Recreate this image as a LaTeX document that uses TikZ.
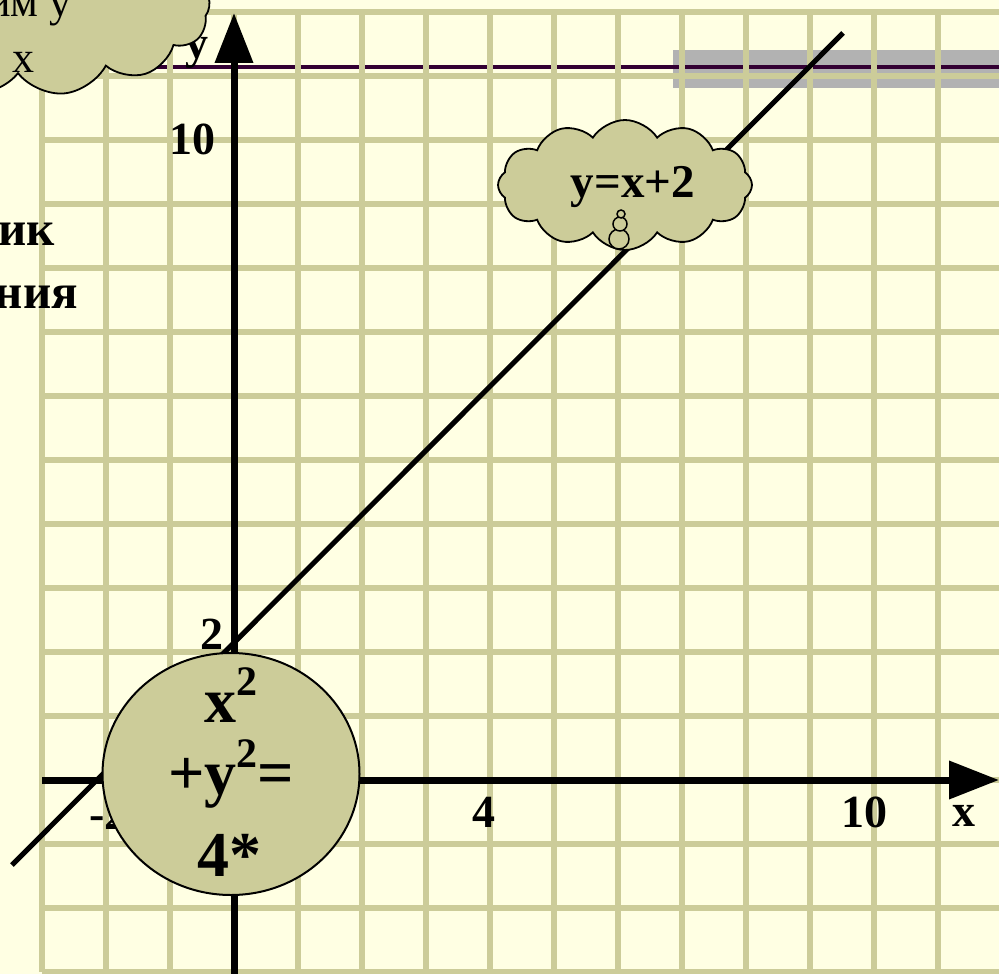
\documentclass[tikz,border=0pt]{standalone}
\usepackage{fontspec}
\setmainfont{Liberation Serif}
\usetikzlibrary{arrows.meta,shapes.symbols,shapes.geometric}
\definecolor{bgc}{HTML}{FFFFE3}
\definecolor{gridc}{HTML}{CCCC99}
\definecolor{fillc}{HTML}{CCCC99}
\definecolor{barc}{HTML}{B2B2B2}
\definecolor{purp}{HTML}{330033}
\newcommand\fsz[1]{\fontsize{#1}{#1}\selectfont}
\tikzset{
  gridline/.style={gridc, line width=6pt},
  axisline/.style={line width=7pt, -{Triangle[length=50pt,width=37pt]}},
  graphline/.style={line width=5pt},
  lbl/.style={font=\fsz{46}\bfseries, inner sep=0pt},
  bubble/.style={draw, fill=fillc, line width=1.5pt},
  cloudbox/.style={cloud, cloud ignores aspect, draw, fill=fillc, line width=1.8pt, cloud puffs=12, cloud puff arc=115, inner sep=0pt},
}
\begin{document}
\begin{tikzpicture}[x=1pt,y=-1pt]
\useasboundingbox (0,0) rectangle (999,974);
\fill[bgc] (0,0) rectangle (999,974);
% gray bar and purple line
\fill[barc] (673,50) rectangle (999,88);
\coordinate (pa) at (0,67);
\coordinate (pb) at (999,67);
\draw[purp, line width=3.5pt] (pa) -- (pb);
% grid
\foreach \i in {0,...,15} {\draw[gridline] ({42+64*\i},12) -- ({42+64*\i},972);}
\foreach \j in {0,...,15} {\draw[gridline] (42,{12+64*\j}) -- (999,{12+64*\j});}
% axes
\coordinate (xs) at (42,780);
\coordinate (xe) at (999,780);
\coordinate (ys) at (234,974);
\coordinate (ye) at (234,13);
\draw[axisline] (xs) -- (xe);
\draw[axisline] (ys) -- (ye);
% line y=x+2
\coordinate (la) at (12,865);
\coordinate (lb) at (843,33);
\draw[graphline] (la) -- (lb);
% labels
\node[lbl, anchor=base] (ten) at (192,154) {10};
\node[lbl, anchor=base] (two) at (212,649) {2};
\node[lbl, anchor=base west] (mtwo) at (89,829) {-2};
\node[lbl, anchor=base] (four) at (484,827) {4};
\node[lbl, anchor=base] (tenx) at (864,827) {10};
\node[lbl, anchor=base] (xl) at (964,826) {x};
\node[lbl, anchor=base] (yl) at (197,59) {y};
% left text
\node[font=\fsz{49}\bfseries, anchor=base east, inner sep=0pt] (tik) at (55,245) {ик};
\node[font=\fsz{49}\bfseries, anchor=base east, inner sep=0pt] (tnia) at (78,308) {ния};
% circle
\node[ellipse, draw, fill=fillc, line width=2pt, minimum width=257pt, minimum height=242pt, inner sep=0pt] (circ) at (231,774) {};
\node[font=\fsz{64}\bfseries, anchor=base, inner sep=0pt] (e1) at (231,722) {x\raisebox{27pt}{\fsz{42}2}};
\node[font=\fsz{64}\bfseries, anchor=base, inner sep=0pt] (e2) at (231,794) {+y\raisebox{27pt}{\fsz{42}2}=};
\node[font=\fsz{64}\bfseries, anchor=base, inner sep=0pt] (e3) at (229,876) {4*};
% cloud y=x+2
\node[cloudbox, minimum width=254pt, minimum height=130pt] (c1) at (625,185) {};
\node[font=\fsz{47}\bfseries, inner sep=0pt] (c1t) at (633,187) {y=x+2};
\node[bubble, circle, minimum size=20pt, inner sep=0pt] (b1) at (619,239) {};
\node[bubble, circle, minimum size=14pt, inner sep=0pt] (b2) at (620,224) {};
\node[bubble, circle, minimum size=8pt, inner sep=0pt] (b3) at (621,214) {};
% top-left cloud
\node[cloudbox, cloud puffs=13, minimum width=384pt, minimum height=176pt] (c0) at (18,8) {};
\node[font=\fsz{44}, anchor=base east, inner sep=0pt] (c0a) at (72,17) {им у};
\node[font=\fsz{44}, anchor=base east, inner sep=0pt] (c0b) at (35,73) {х};
\end{tikzpicture}
\end{document}
